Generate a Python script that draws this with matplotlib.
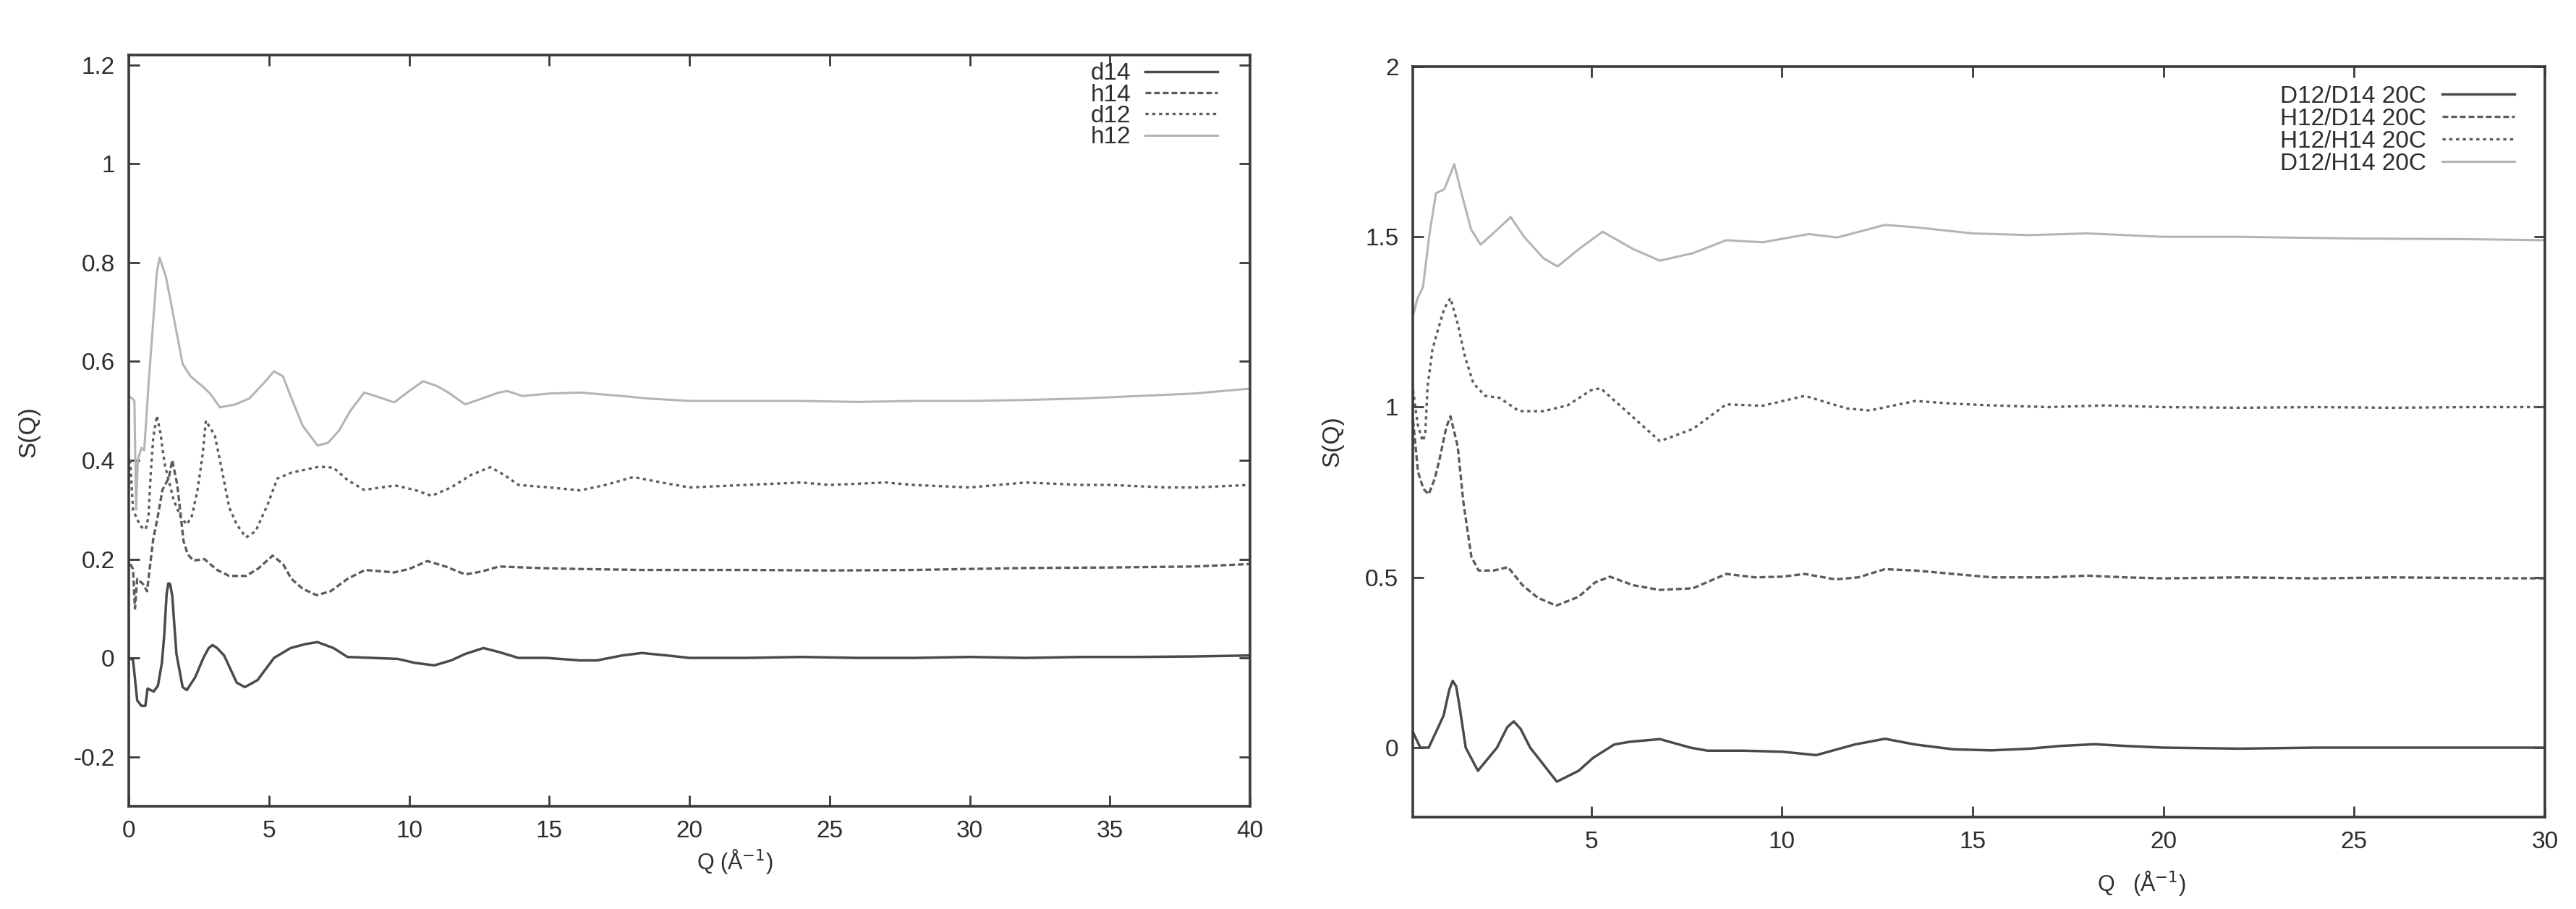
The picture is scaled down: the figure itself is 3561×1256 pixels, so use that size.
import matplotlib
matplotlib.use("Agg")
import matplotlib.pyplot as plt

plt.rcParams['font.family'] = ['Liberation Sans', 'DejaVu Sans']

# ---------------- Left panel data ----------------
d14_q = [0.0, 0.15, 0.3, 0.45, 0.59, 0.67, 0.89, 1.04, 1.18, 1.26, 1.35, 1.41, 1.47, 1.55, 1.62, 1.70,
         1.92, 2.07, 2.37, 2.66, 2.85, 2.99, 3.15, 3.4, 3.85, 4.14, 4.59, 5.18, 5.77, 6.3, 6.73, 7.3,
         7.8, 8.7, 9.6, 10.2, 10.9, 11.5, 12.0, 12.65, 13.2, 13.9, 14.9, 16.1, 16.7, 17.6, 18.3, 19.2,
         20, 22, 24, 26, 28, 30, 32, 34, 36, 38, 40]
d14_s = [0.0, -0.004, -0.086, -0.097, -0.097, -0.062, -0.068, -0.056, -0.01, 0.043, 0.13, 0.151,
         0.15, 0.126, 0.07, 0.008, -0.059, -0.065, -0.039, 0.0, 0.02, 0.026, 0.02, 0.005, -0.05,
         -0.059, -0.045, 0.0, 0.02, 0.028, 0.032, 0.02, 0.002, 0.0, -0.002, -0.01, -0.015, -0.005,
         0.008, 0.02, 0.012, 0.0, 0.0, -0.005, -0.005, 0.005, 0.01, 0.005, 0.0, 0.0, 0.002, 0.0,
         0.0, 0.002, 0.0, 0.002, 0.002, 0.003, 0.005]

h14_q = [0.05, 0.15, 0.22, 0.3, 0.4, 0.5, 0.65, 0.87, 1.03, 1.2, 1.43, 1.55, 1.73, 1.86, 1.95, 2.1,
         2.3, 2.7, 2.9, 3.15, 3.58, 4.18, 4.6, 5.13, 5.5, 5.8, 6.2, 6.7, 7.2, 7.8, 8.43, 9.47, 10.0,
         10.65, 11.3, 12.0, 12.6, 13.2, 14.6, 16, 18.3, 20, 22, 25, 28, 30, 32, 35, 38, 40]
h14_s = [0.19, 0.18, 0.10, 0.16, 0.155, 0.15, 0.135, 0.24, 0.285, 0.34, 0.365, 0.40, 0.35, 0.285,
         0.237, 0.21, 0.197, 0.2, 0.19, 0.178, 0.166, 0.166, 0.18, 0.207, 0.19, 0.16, 0.14, 0.127,
         0.135, 0.16, 0.178, 0.173, 0.18, 0.196, 0.185, 0.169, 0.175, 0.185, 0.182, 0.18, 0.178,
         0.178, 0.178, 0.177, 0.178, 0.18, 0.182, 0.183, 0.185, 0.19]

d12_q = [0.05, 0.15, 0.3, 0.45, 0.6, 0.7, 0.78, 0.87, 1.0, 1.13, 1.21, 1.3, 1.6, 1.85, 2.07, 2.25,
         2.45, 2.63, 2.75, 3.07, 3.35, 3.58, 3.85, 4.18, 4.52, 4.95, 5.3, 5.8, 6.8, 7.3, 7.8, 8.4,
         9.5, 10.2, 10.8, 11.5, 12.2, 12.9, 13.4, 13.9, 15, 16.1, 17, 18, 19, 20, 22, 24, 25, 27,
         28, 30, 32, 34, 35, 37, 38, 40]
d12_s = [0.40, 0.30, 0.28, 0.265, 0.26, 0.285, 0.37, 0.445, 0.49, 0.455, 0.42, 0.387, 0.32, 0.285,
         0.27, 0.287, 0.339, 0.41, 0.48, 0.45, 0.372, 0.305, 0.27, 0.244, 0.256, 0.31, 0.363, 0.375,
         0.387, 0.385, 0.36, 0.34, 0.349, 0.34, 0.328, 0.345, 0.37, 0.386, 0.37, 0.35, 0.345, 0.339,
         0.35, 0.366, 0.355, 0.345, 0.35, 0.355, 0.35, 0.355, 0.35, 0.345, 0.355, 0.35, 0.35,
         0.345, 0.345, 0.35]

h12_q = [0.0, 0.12, 0.2, 0.26, 0.32, 0.45, 0.55, 0.7, 0.87, 1.0, 1.1, 1.33, 1.6, 1.92, 2.2, 2.66,
         2.9, 3.25, 3.8, 4.3, 4.8, 5.18, 5.5, 5.77, 6.2, 6.73, 7.1, 7.5, 7.9, 8.4, 8.9, 9.47, 10.0,
         10.5, 11.0, 11.4, 12.0, 12.6, 13.2, 13.5, 14.05, 15, 16.1, 17.6, 18.5, 20, 22, 24, 26, 28,
         30, 32, 34, 36, 38, 40]
h12_s = [0.53, 0.525, 0.52, 0.30, 0.40, 0.425, 0.42, 0.55, 0.68, 0.78, 0.81, 0.77, 0.69, 0.595,
         0.57, 0.548, 0.535, 0.507, 0.513, 0.525, 0.555, 0.58, 0.57, 0.53, 0.47, 0.43, 0.435, 0.46,
         0.50, 0.537, 0.528, 0.517, 0.54, 0.56, 0.55, 0.537, 0.513, 0.525, 0.537, 0.54, 0.53, 0.535,
         0.537, 0.53, 0.525, 0.52, 0.52, 0.52, 0.518, 0.52, 0.52, 0.522, 0.525, 0.53, 0.535, 0.545]

left_labels = ['d14', 'h14', 'd12', 'h12']
left_xticks = [0, 5, 10, 15, 20, 25, 30, 35, 40]
left_yticks = [-0.2, 0, 0.2, 0.4, 0.6, 0.8, 1, 1.2]
left_yticklabels = ['-0.2', '0', '0.2', '0.4', '0.6', '0.8', '1', '1.2']

# ---------------- Right panel data ----------------
dd_q = [0.33, 0.52, 0.74, 0.99, 1.13, 1.28, 1.37, 1.46, 1.55, 1.71, 2.03, 2.53, 2.8, 2.97, 3.15,
        3.4, 4.1, 4.67, 5.05, 5.6, 6.0, 6.8, 7.6, 8.05, 9.0, 10.0, 10.9, 11.9, 12.7, 13.5, 14.5,
        15.5, 16.5, 17.3, 18.2, 19.0, 20, 22, 24, 26, 28, 30]
dd_s = [0.045, 0.0, 0.0, 0.06, 0.094, 0.17, 0.196, 0.18, 0.12, 0.0, -0.068, 0.0, 0.06, 0.077,
        0.055, 0.0, -0.1, -0.068, -0.03, 0.009, 0.017, 0.025, 0.0, -0.009, -0.009, -0.012, -0.022,
        0.009, 0.026, 0.009, -0.005, -0.008, -0.003, 0.005, 0.01, 0.005, 0.0, -0.003, 0.0, 0.0,
        0.0, 0.0]

hd_q = [0.33, 0.46, 0.6, 0.74, 0.9, 1.03, 1.2, 1.31, 1.5, 1.65, 1.86, 2.05, 2.44, 2.82, 3.2, 3.6,
        4.08, 4.67, 5.1, 5.49, 6.1, 6.8, 7.67, 8.54, 9.3, 10.0, 10.6, 11.4, 12.0, 12.7, 13.5, 14.5,
        15.5, 17, 18, 19, 20, 22, 24, 26, 28, 30]
hd_s = [0.96, 0.81, 0.76, 0.744, 0.79, 0.85, 0.94, 0.973, 0.885, 0.72, 0.56, 0.52, 0.52, 0.53,
        0.477, 0.44, 0.417, 0.443, 0.485, 0.502, 0.477, 0.463, 0.468, 0.51, 0.5, 0.502, 0.51,
        0.494, 0.5, 0.524, 0.52, 0.51, 0.5, 0.5, 0.505, 0.5, 0.497, 0.5, 0.497, 0.5, 0.498, 0.497]

hh_q = [0.33, 0.45, 0.58, 0.65, 0.71, 0.84, 0.99, 1.15, 1.31, 1.5, 1.69, 1.91, 2.22, 2.6, 3.11,
        3.75, 4.38, 5.0, 5.25, 5.6, 6.1, 6.8, 7.67, 8.54, 9.5, 10.6, 11.7, 12.3, 13.5, 14.5, 15.5,
        17, 18.5, 20, 22, 24, 26, 28, 30]
hh_s = [1.05, 0.95, 0.9, 0.92, 1.06, 1.17, 1.23, 1.29, 1.32, 1.245, 1.148, 1.07, 1.033, 1.027,
        0.988, 0.988, 1.005, 1.05, 1.055, 1.02, 0.97, 0.9, 0.936, 1.008, 1.004, 1.033, 0.996, 0.99,
        1.018, 1.01, 1.005, 1.0, 1.005, 1.0, 0.998, 1.0, 0.998, 1.0, 1.0]

dh_q = [0.33, 0.45, 0.59, 0.75, 0.93, 1.15, 1.41, 1.6, 1.85, 2.1, 2.48, 2.89, 3.24, 3.75, 4.12,
        4.7, 5.3, 6.1, 6.8, 7.67, 8.54, 9.5, 10.7, 11.45, 12.7, 13.5, 15, 16.5, 18, 20, 22, 25, 28, 30]
dh_s = [1.27, 1.32, 1.352, 1.5, 1.628, 1.64, 1.713, 1.628, 1.522, 1.477, 1.515, 1.558, 1.5, 1.437,
        1.413, 1.466, 1.515, 1.464, 1.43, 1.452, 1.49, 1.484, 1.508, 1.498, 1.535, 1.528, 1.51,
        1.505, 1.51, 1.5, 1.5, 1.495, 1.493, 1.49]

right_labels = ['D12/D14 20C', 'H12/D14 20C', 'H12/H14 20C', 'D12/H14 20C']
right_xticks = [5, 10, 15, 20, 25, 30]
right_yticks = [0, 0.5, 1, 1.5, 2]
right_yticklabels = ['0', '0.5', '1', '1.5', '2']

# ---------------- styles ----------------
DARK = '#4a4a4a'
MID = '#5c5c5c'
LIGHT = '#b4b4b4'
TXT = '#2e2e2e'
FS = 24

styles = [
    dict(color=DARK, lw=2.5, linestyle='-'),
    dict(color=MID, lw=2.4, linestyle=(0, (2.4, 1.2))),
    dict(color=MID, lw=2.4, linestyle=(0, (1.3, 1.5))),
    dict(color=LIGHT, lw=2.2, linestyle='-'),
]

fig = plt.figure(figsize=(35.61, 12.56), dpi=100)
ax1 = fig.add_axes([0.0500, 0.1131, 0.4353, 0.8264])
ax2 = fig.add_axes([0.5484, 0.1011, 0.4395, 0.8257])

left_data = [(d14_q, d14_s), (h14_q, h14_s), (d12_q, d12_s), (h12_q, h12_s)]
right_data = [(dd_q, dd_s), (hd_q, hd_s), (hh_q, hh_s), (dh_q, dh_s)]

for (q, s), lab, st in zip(left_data, left_labels, styles):
    ax1.plot(q, s, label=lab, solid_joinstyle='round', **st)
for (q, s), lab, st in zip(right_data, right_labels, styles):
    ax2.plot(q, s, label=lab, solid_joinstyle='round', **st)

ax1.set_xlim(0, 40)
ax1.set_ylim(-0.3, 1.22)
ax1.set_xticks(left_xticks)
ax1.set_xticklabels([str(t) for t in left_xticks])
ax1.set_yticks(left_yticks)
ax1.set_yticklabels(left_yticklabels)

ax2.set_xlim(0.32, 30)
ax2.set_ylim(-0.204, 2.0)
ax2.set_xticks(right_xticks)
ax2.set_xticklabels([str(t) for t in right_xticks])
ax2.set_yticks(right_yticks)
ax2.set_yticklabels(right_yticklabels)

for ax in (ax1, ax2):
    for sp in ax.spines.values():
        sp.set_linewidth(2.6)
        sp.set_color('#3a3a3a')
    ax.tick_params(direction='in', length=11, width=2, top=True, right=True,
                   labelsize=FS, labelcolor=TXT, color='#3a3a3a')
    ax.tick_params(axis='y', pad=14)
    ax.tick_params(axis='x', pad=14)

leg1 = ax1.legend(loc='upper right', bbox_to_anchor=(0.971, 0.99), frameon=False,
                  markerfirst=False, prop={'size': FS}, handlelength=3.0,
                  handletextpad=0.6, labelspacing=-0.05, borderpad=0, borderaxespad=0)
leg2 = ax2.legend(loc='upper right', bbox_to_anchor=(0.973, 0.975), frameon=False,
                  markerfirst=False, prop={'size': FS}, handlelength=3.0,
                  handletextpad=0.65, labelspacing=0.0, borderpad=0, borderaxespad=0)
for leg in (leg1, leg2):
    for t in leg.get_texts():
        t.set_color(TXT)

W, H = 3561.0, 1256.0
fig.text(40 / W, 1 - 597 / H, 'S(Q)', rotation=90, ha='center', va='center', fontsize=FS, color=TXT)
fig.text(1842 / W, 1 - 610 / H, 'S(Q)', rotation=90, ha='center', va='center', fontsize=FS, color=TXT)
fig.text(1016 / W, 1 - 1190 / H, 'Q (Å$^{-1}$)', ha='center', va='center', fontsize=22, color=TXT)
fig.text(2960 / W, 1 - 1220 / H, 'Q   (Å$^{-1}$)', ha='center', va='center', fontsize=22, color=TXT)

fig.savefig('out.png', dpi=100, facecolor='white')
